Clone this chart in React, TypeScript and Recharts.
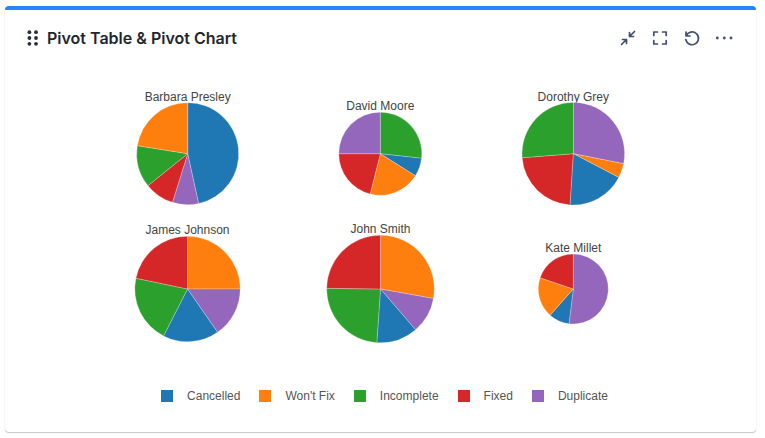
import React from "react";
import { PieChart, Pie, Cell, Legend } from "recharts";

const categories = ["Cancelled", "Won't Fix", "Incomplete", "Fixed", "Duplicate"];
const colors: Record<string, string> = {
  Cancelled: "#1f77b4",
  "Won't Fix": "#ff7f0e",
  Incomplete: "#2ca02c",
  Fixed: "#d62728",
  Duplicate: "#9467bd",
};

const barbaraSlices = ["Cancelled", "Duplicate", "Fixed", "Incomplete", "Won't Fix"];
const barbaraValues = [167.7, 29.7, 33.8, 47.9, 80.9];
const davidSlices = ["Incomplete", "Cancelled", "Won't Fix", "Fixed", "Duplicate"];
const davidValues = [96.4, 25.8, 71.9, 75.9, 90];
const dorothySlices = ["Duplicate", "Won't Fix", "Cancelled", "Fixed", "Incomplete"];
const dorothyValues = [101.2, 16.4, 66.1, 81.8, 94.5];
const jamesSlices = ["Won't Fix", "Duplicate", "Cancelled", "Incomplete", "Fixed"];
const jamesValues = [90, 55.3, 61.7, 74.8, 78.2];
const johnSlices = ["Won't Fix", "Duplicate", "Cancelled", "Incomplete", "Fixed"];
const johnValues = [100.2, 39.1, 44.6, 86.8, 89.3];
const kateSlices = ["Duplicate", "Cancelled", "Won't Fix", "Fixed"];
const kateValues = [187.1, 34.4, 67.1, 71.4];

const build = (names: string[], values: number[]) => names.map((name, i) => ({ name, value: values[i] }));

const pies = [
  { title: "Barbara Presley", data: build(barbaraSlices, barbaraValues), cx: 187.7, cy: 153.7, r: 51, ty: 101 },
  { title: "David Moore", data: build(davidSlices, davidValues), cx: 380.3, cy: 153.7, r: 41.5, ty: 110 },
  { title: "Dorothy Grey", data: build(dorothySlices, dorothyValues), cx: 573.3, cy: 153.7, r: 51.3, ty: 101 },
  { title: "James Johnson", data: build(jamesSlices, jamesValues), cx: 187.5, cy: 289, r: 52.7, ty: 234 },
  { title: "John Smith", data: build(johnSlices, johnValues), cx: 380.5, cy: 289, r: 53.8, ty: 233 },
  { title: "Kate Millet", data: build(kateSlices, kateValues), cx: 573.3, cy: 289, r: 35, ty: 252 },
];

const FONT = "'Liberation Sans', Arial, sans-serif";

const LegendContent = () => (
  <div style={{ display: "flex", justifyContent: "center", gap: 19, fontFamily: FONT, fontSize: 12, color: "#555", height: 14, alignItems: "center" }}>
    {categories.map((c) => (
      <div key={c} style={{ display: "flex", alignItems: "center", gap: 14 }}>
        <span style={{ width: 12, height: 12, background: colors[c], display: "block" }} />
        <span>{c}</span>
      </div>
    ))}
  </div>
);

const iconStyle = { position: "absolute" as const, top: 29, width: 18, height: 18, fill: "none", stroke: "#42526e", strokeWidth: 1.7, strokeLinecap: "round" as const, strokeLinejoin: "round" as const };

export default function App() {
  return (
    <div style={{ position: "absolute", left: 0, top: 0, width: 765, height: 438, background: "#fff", overflow: "hidden" }}>
      <div style={{ position: "absolute", left: 5, top: 6, width: 751, height: 426, background: "#fff", borderRadius: 4, boxShadow: "0 1px 1px rgba(0,0,0,0.22), 0 0 1px rgba(0,0,0,0.15)", borderTop: "4px solid #2684ff", boxSizing: "border-box" }} />
      <svg style={{ position: "absolute", left: 27, top: 30, width: 12, height: 16 }} viewBox="0 0 12 16">
        {[0, 1, 2].flatMap((r) => [0, 1].map((c) => <circle key={`${r}${c}`} cx={2.4 + c * 6.6} cy={2.2 + r * 5.8} r={1.9} fill="#2a2f3a" />))}
      </svg>
      <div style={{ position: "absolute", left: 47, top: 28, fontFamily: "Inter, sans-serif", fontWeight: 600, fontSize: 16, lineHeight: "20px", color: "#23262f" }}>
        Pivot Table &amp; Pivot Chart
      </div>
      <svg style={{ ...iconStyle, left: 619 }} viewBox="0 0 18 18">
        <path d="M10.5 7.5 15.5 2.5M10.5 3.5V7.5H14.5M7.5 10.5 2.5 15.5M3.5 10.5H7.5V14.5" />
      </svg>
      <svg style={{ ...iconStyle, left: 651 }} viewBox="0 0 18 18">
        <path d="M2.8 6.5V3H6.5M11.5 3H15.2V6.5M15.2 11.5V15H11.5M6.5 15H2.8V11.5" />
      </svg>
      <svg style={{ ...iconStyle, left: 683 }} viewBox="0 0 18 18">
        <path d="M3 3V7H7M3.2 6.8A6.4 6.4 0 1 1 2.8 10.5" />
      </svg>
      <svg style={{ position: "absolute", left: 715, top: 29, width: 18, height: 18 }} viewBox="0 0 18 18">
        {[2.3, 9.3, 16].map((x) => <circle key={x} cx={x} cy={9} r={1.4} fill="#42526e" />)}
      </svg>
      <div style={{ position: "absolute", left: 0, top: 0 }}>
        <PieChart width={765} height={438} margin={{ top: 0, right: 0, bottom: 0, left: 0 }}>
          {pies.map((p) => (
            <Pie
              key={p.title}
              data={p.data}
              dataKey="value"
              nameKey="name"
              cx={p.cx}
              cy={p.cy}
              innerRadius={0}
              outerRadius={p.r}
              startAngle={90}
              endAngle={-270}
              stroke="#fff"
              strokeWidth={0.25}
              isAnimationActive={false}
              label={false}
              labelLine={false}
            >
              {p.data.map((d) => (
                <Cell key={d.name} fill={colors[d.name]} />
              ))}
            </Pie>
          ))}
          {pies.map((p) => (
            <text key={p.title} x={p.cx} y={p.ty} textAnchor="middle" fontFamily={FONT} fontSize={12} fill="#444">
              {p.title}
            </text>
          ))}
          <Legend content={LegendContent} layout="horizontal" wrapperStyle={{ left: -0.5, top: 389, width: 770, bottom: "auto" }} />
        </PieChart>
      </div>
    </div>
  );
}
